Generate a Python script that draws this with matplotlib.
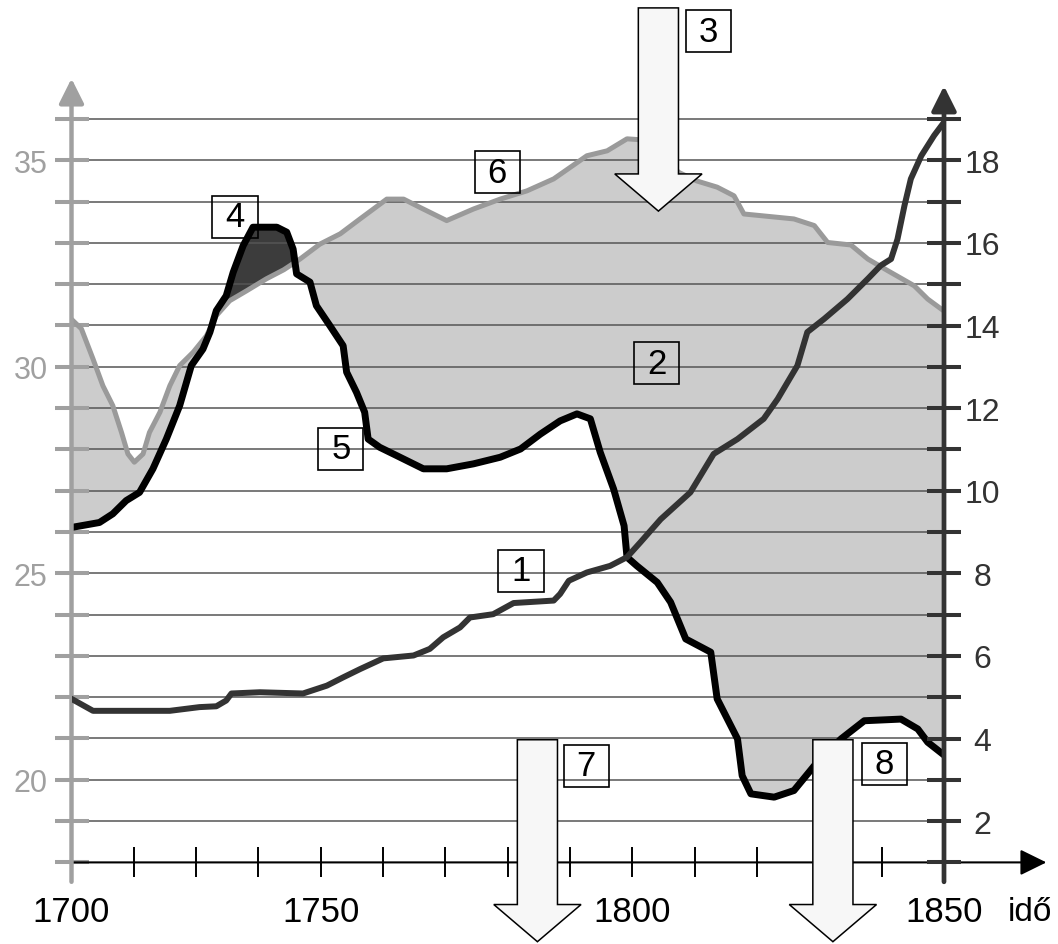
import numpy as np
import matplotlib.pyplot as plt
from matplotlib.patches import FancyArrow, Rectangle

plt.rcParams['font.family'] = ['Liberation Sans', 'DejaVu Sans']

# curve 6 (gray), left axis
gray_years = [1700, 1701.7, 1703.7, 1705.4, 1707.1, 1708.6, 1709.7, 1710.8, 1712.3, 1713.4,
              1715.2, 1716.9, 1718.6, 1720.9, 1723.2, 1724.9, 1727.2, 1730.1, 1733.5, 1736.5,
              1739.3, 1742.7, 1746.2, 1749.6, 1754.2, 1757.1, 1759.9, 1764.5, 1769.1, 1773.7,
              1778.3, 1782.9, 1788.6, 1792.1, 1795.5, 1797.5, 1801.0, 1804.5, 1807.5, 1811.0,
              1813.9, 1815.6, 1818.5, 1824.2, 1827.7, 1830.0, 1834.0, 1836.9, 1840.3, 1844.9,
              1847.2, 1850]
gray_vals = [31.15, 30.92, 30.19, 29.54, 29.06, 28.41, 27.89, 27.69, 27.89, 28.41,
             28.9, 29.54, 30.03, 30.35, 30.75, 31.24, 31.6, 31.84, 32.13, 32.35,
             32.61, 32.97, 33.22, 33.58, 34.06, 34.06, 33.86, 33.54, 33.82, 34.06,
             34.26, 34.55, 35.11, 35.23, 35.52, 35.5, 35.1, 34.7, 34.5, 34.35,
             34.14, 33.7, 33.66, 33.58, 33.42, 33.01, 32.95, 32.61, 32.33, 31.96,
             31.64, 31.35]

# curve 5 (black), left axis
black_years = [1700, 1704.8, 1707.1, 1709.4, 1711.7, 1714.0, 1716.3, 1718.6, 1720.6, 1722.6,
               1723.8, 1724.9, 1726.6, 1727.8, 1729.5, 1731.2, 1735.3, 1737.0, 1738.1, 1738.7,
               1741.0, 1742.1, 1744.4, 1746.7, 1747.3, 1749.0, 1750.4, 1751.0, 1753.0, 1755.9,
               1760.5, 1764.5, 1769.1, 1773.7, 1777.2, 1780.6, 1784.0, 1786.9, 1789.2, 1790.9,
               1793.2, 1795.0, 1795.5, 1797.2, 1800.7, 1803.0, 1805.6, 1809.9, 1811.0, 1814.5,
               1815.3, 1816.8, 1820.8, 1824.2, 1827.7, 1832.3, 1836.3, 1842.6, 1845.5, 1847.2,
               1850]
black_vals = [26.11, 26.23, 26.44, 26.76, 26.96, 27.53, 28.25, 29.06, 30.03, 30.43,
              30.84, 31.36, 31.72, 32.29, 32.93, 33.38, 33.38, 33.26, 32.85, 32.25,
              32.05, 31.48, 31.0, 30.51, 29.87, 29.38, 28.9, 28.25, 28.05, 27.85,
              27.53, 27.53, 27.65, 27.81, 28.01, 28.37, 28.69, 28.86, 28.74, 27.93,
              27.04, 26.15, 25.39, 25.18, 24.78, 24.3, 23.41, 23.09, 21.96, 20.99,
              20.1, 19.66, 19.58, 19.74, 20.34, 20.99, 21.43, 21.47, 21.23, 20.91,
              20.6]

# curve 1, right axis
line1_years = [1700, 1703.7, 1709.4, 1716.9, 1722.0, 1724.9, 1726.6, 1727.5, 1732.4, 1739.8,
               1743.9, 1746.7, 1749.6, 1753.6, 1758.8, 1761.6, 1763.9, 1766.8, 1768.5, 1772.5,
               1776.0, 1782.9, 1784.0, 1785.5, 1788.6, 1792.6, 1795.5, 1797.8, 1801.3, 1806.4,
               1810.4, 1814.5, 1819.0, 1821.4, 1824.8, 1826.5, 1829.4, 1833.4, 1836.9, 1839.1,
               1840.9, 1842.0, 1843.2, 1844.3, 1846.1, 1848.3, 1850]
line1_vals = [4.96, 4.67, 4.67, 4.67, 4.76, 4.78, 4.92, 5.09, 5.12, 5.09,
              5.28, 5.48, 5.68, 5.94, 6.01, 6.17, 6.45, 6.69, 6.93, 7.01,
              7.28, 7.34, 7.5, 7.82, 8.02, 8.18, 8.39, 8.75, 9.31, 9.96,
              10.89, 11.25, 11.74, 12.22, 13.03, 13.84, 14.16, 14.64, 15.13, 15.45,
              15.61, 16.09, 16.9, 17.55, 18.11, 18.6, 18.92]

x_tick_pos = 1700 + np.arange(15) * 150 / 14
x_tick_labels = ['1700', '', '', '', '1750', '', '', '', '', '1800', '', '', '', '', '1850']
left_ticks = list(range(18, 37))
left_labels = [str(v) if v in (20, 25, 30, 35) else '' for v in left_ticks]
right_ticks = list(range(1, 20))
right_labels = [str(v) if v % 2 == 0 else '' for v in right_ticks]

# numbered boxes
box_text = ['1', '2', '3', '4', '5', '6', '7', '8']
box_x = [1777.3, 1800.6, 1809.5, 1728.1, 1746.3, 1773.2, 1788.5, 1839.8]
box_y = [25.06, 30.09, 38.13, 33.63, 28.01, 34.71, 20.34, 20.39]

# block arrows (center year, top, tip) in left-axis units
arrow_x = [1800.9, 1780.1, 1830.9]
arrow_top = [38.69, 20.97, 20.97]
arrow_tip = [33.77, 16.08, 16.08]

fig = plt.figure(figsize=(10.58, 9.45), dpi=100)
ax = fig.add_axes([71.5 / 1058, 81.6 / 945, 872.5 / 1058, 784.7 / 945])
ax.set_xlim(1700, 1850)
ax.set_ylim(18, 37)
ax2 = ax.twinx()
ax2.set_ylim(1, 20)
for a in (ax, ax2):
    for s in a.spines.values():
        s.set_visible(False)

# fill between the two curves
xs = np.union1d(gray_years, black_years)
g = np.interp(xs, gray_years, gray_vals)
b = np.interp(xs, black_years, black_vals)
ax.fill_between(xs, g, b, where=g >= b, interpolate=True, color='#cccccc', lw=0, zorder=0.8)
ax.fill_between(xs, g, b, where=b > g, interpolate=True, color='#3c3c3c', lw=0, zorder=0.8)

ax.hlines(range(19, 37), 1700, 1850, color='#555555', lw=1.1, zorder=1.2)

ax.plot(gray_years, gray_vals, color='#9a9a9a', lw=3.6, zorder=2, solid_joinstyle='round')
ax.plot(black_years, black_vals, color='black', lw=5, zorder=2.5, solid_joinstyle='round')
ax2.plot(line1_years, line1_vals, color='#333333', lw=4.3, solid_joinstyle='round')

# axes with arrows
ax.annotate('', xy=(1700, 36.98), xytext=(1700, 17.53), annotation_clip=False, zorder=4,
            arrowprops=dict(arrowstyle='-|>,head_length=0.6,head_width=0.3', color='#a0a0a0',
                            lw=3.2, shrinkA=0, shrinkB=0, mutation_scale=25))
ax2.annotate('', xy=(1850, 19.8), xytext=(1850, 0.53), annotation_clip=False, zorder=4,
             arrowprops=dict(arrowstyle='-|>,head_length=0.6,head_width=0.3', color='#333333',
                             lw=3.4, shrinkA=0, shrinkB=0, mutation_scale=25))
ax.annotate('', xy=(1867.6, 18), xytext=(1700, 18), annotation_clip=False, zorder=3,
            arrowprops=dict(arrowstyle='-|>,head_length=0.65,head_width=0.32', color='black',
                            lw=1.5, shrinkA=0, shrinkB=0, mutation_scale=25))

ax.set_xticks(x_tick_pos, labels=x_tick_labels)
ax.tick_params(axis='x', direction='inout', length=22.3, width=1.4, color='black',
               labelsize=25, pad=12.6)
ax.set_yticks(left_ticks, labels=left_labels)
ax.tick_params(axis='y', direction='inout', length=23.8, width=2.9, color='#a0a0a0',
               labelcolor='#a0a0a0', labelsize=22, pad=5.4)
ax2.set_yticks(right_ticks, labels=right_labels)
ax2.tick_params(axis='y', direction='inout', length=23.8, width=2.9, color='#333333',
                labelcolor='#333333', labelsize=23, pad=15.5)
for lab in ax2.get_yticklabels():
    lab.set_horizontalalignment('center')

fig.text(1008 / 1058, (945 - 921) / 945, 'idő', fontsize=24, ha='left', va='baseline')

for x, top, tip in zip(arrow_x, arrow_top, arrow_tip):
    arr = FancyArrow(x, top, 0, tip - top, width=6.9, head_width=15.0, head_length=0.9,
                     length_includes_head=True, fc='#f7f7f7', ec='black', lw=1.1, zorder=5)
    arr.set_clip_on(False)
    ax.add_patch(arr)

for t, x, y in zip(box_text, box_x, box_y):
    ax.add_patch(Rectangle((x - 3.9, y - 0.51), 7.8, 1.02, fill=False, ec='black', lw=1.2,
                           zorder=6, clip_on=False))
    ax.text(x, y, t, ha='center', va='center', fontsize=25, zorder=6, clip_on=False)

fig.savefig('out.png', dpi=100)
